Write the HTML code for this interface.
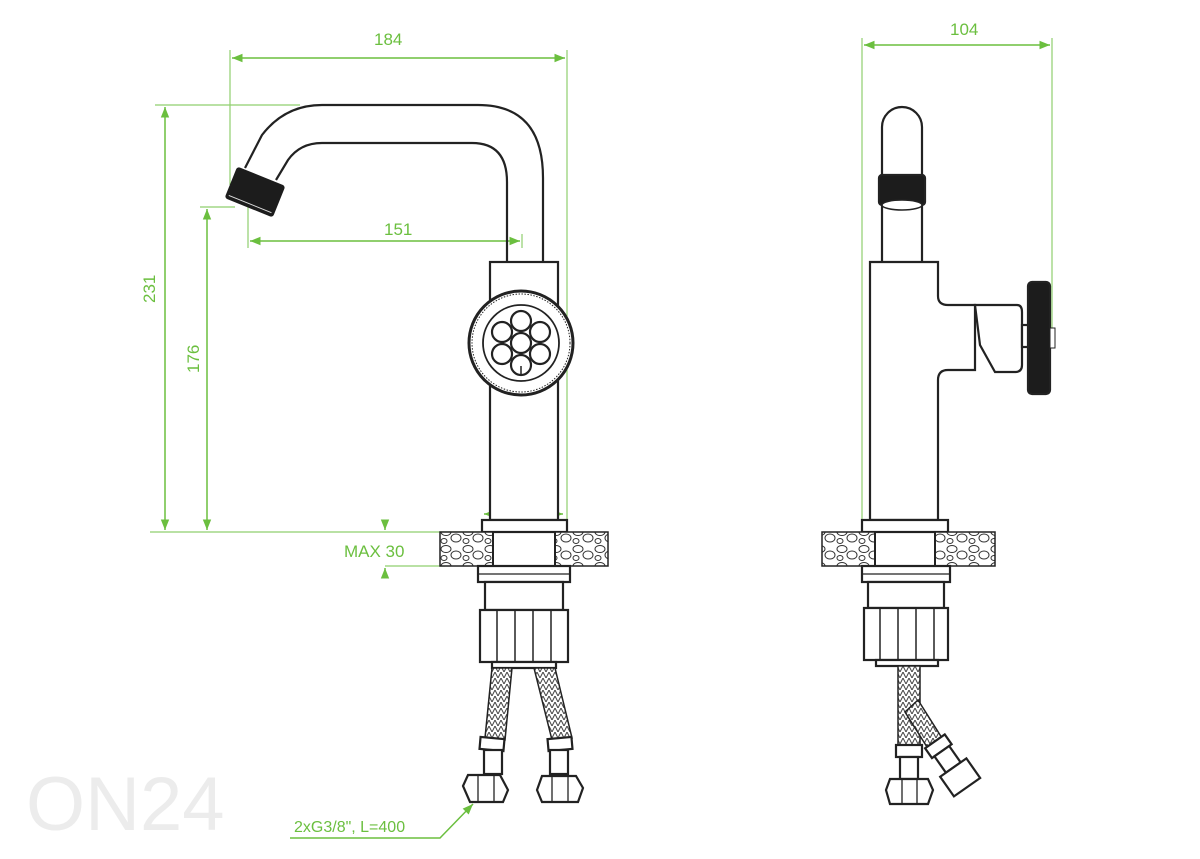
<!DOCTYPE html>
<html><head><meta charset="utf-8"><style>
html,body{margin:0;padding:0;background:#fff;}
svg{display:block}
text{font-family:"Liberation Sans",sans-serif;fill:#6bbf3f;font-size:17px}
</style></head><body>
<svg width="1200" height="859" viewBox="0 0 1200 859" xmlns="http://www.w3.org/2000/svg">
<defs>
<marker id="a" viewBox="0 0 10 10" refX="10" refY="5" markerWidth="9" markerHeight="7" orient="auto-start-reverse"><path d="M0,1 L10,5 L0,9 z" fill="#6bbf3f"/></marker>
<pattern id="peb" width="22" height="17" patternUnits="userSpaceOnUse">
<rect width="22" height="17" fill="#fff"/>
<ellipse cx="6" cy="5" rx="5" ry="3.5" fill="none" stroke="#333" stroke-width="1"/>
<ellipse cx="16" cy="11" rx="5" ry="4" fill="none" stroke="#333" stroke-width="1"/>
<ellipse cx="4" cy="14" rx="3" ry="2.5" fill="none" stroke="#333" stroke-width="1"/>
</pattern>
<pattern id="braid" width="6" height="6" patternUnits="userSpaceOnUse">
<rect width="6" height="6" fill="#fff"/><path d="M0,6 L3,0 L6,6" fill="none" stroke="#444" stroke-width="1"/>
</pattern>
</defs>

<text x="26" y="830" style="font-size:76px;fill:#ececec">ON24</text>

<!-- green dimensions -->
<g stroke="#8fcf6e" stroke-width="1.2" fill="none">
<line x1="230" y1="50" x2="230" y2="185"/>
<line x1="567" y1="50" x2="567" y2="520"/>
<line x1="155" y1="105" x2="300" y2="105"/>
<line x1="150" y1="532" x2="480" y2="532"/>
<line x1="200" y1="207" x2="235" y2="207"/>
<line x1="248" y1="200" x2="248" y2="248"/>
<line x1="522" y1="234" x2="522" y2="248"/>
<line x1="385" y1="566" x2="445" y2="566"/>
<line x1="862" y1="38" x2="862" y2="520"/>
<line x1="1052" y1="38" x2="1052" y2="330"/>
</g>
<g stroke="#6bbf3f" stroke-width="1.5" fill="none">
<line x1="232" y1="58" x2="565" y2="58" marker-start="url(#a)" marker-end="url(#a)"/>
<line x1="165" y1="107" x2="165" y2="530" marker-start="url(#a)" marker-end="url(#a)"/>
<line x1="207" y1="209" x2="207" y2="530" marker-start="url(#a)" marker-end="url(#a)"/>
<line x1="250" y1="241" x2="520" y2="241" marker-start="url(#a)" marker-end="url(#a)"/>
<line x1="484" y1="514" x2="563" y2="514" marker-start="url(#a)" marker-end="url(#a)"/>
<line x1="385" y1="520" x2="385" y2="530" marker-end="url(#a)"/>
<line x1="385" y1="578" x2="385" y2="568" marker-end="url(#a)"/>
<line x1="864" y1="45" x2="1050" y2="45" marker-start="url(#a)" marker-end="url(#a)"/>
<polyline points="290,838 440,838 473,804" marker-end="url(#a)"/>
</g>
<text x="374" y="45">184</text>
<text x="384" y="235">151</text>
<text x="507" y="508">ø48</text>
<text x="344" y="557">MAX 30</text>
<text x="950" y="35">104</text>
<text x="294" y="832" style="font-size:16px">2xG3/8", L=400</text>
<text transform="translate(155,303) rotate(-90)">231</text>
<text transform="translate(199,373) rotate(-90)">176</text>

<!-- front view -->
<g stroke="#222" stroke-width="2.2" fill="none">
<path d="M543,262 L543,178 Q543,105 478,105 L322,105 Q285,105 262,135 L245,168"/>
<path d="M507,262 L507,182 Q507,143 472,143 L322,143 Q300,143 288,160 L276,180"/>
<rect x="490" y="262" width="68" height="258" fill="#fff"/>
<circle cx="521" cy="343" r="52" fill="#fff" stroke-width="3"/>
<circle cx="521" cy="343" r="49" stroke-width="1" stroke-dasharray="1.5 1.5"/>
<circle cx="521" cy="343" r="38" stroke-width="1.8"/>
<circle cx="521" cy="343" r="10"/>
<circle cx="521" cy="321" r="10"/><circle cx="521" cy="365" r="10"/>
<circle cx="502" cy="332" r="10"/><circle cx="540" cy="332" r="10"/>
<circle cx="502" cy="354" r="10"/><circle cx="540" cy="354" r="10"/>
<line x1="521" y1="366" x2="521" y2="374" stroke-width="1.5"/>
<rect x="482" y="520" width="85" height="12" fill="#fff"/>
<rect x="440" y="532" width="53" height="34" fill="url(#peb)" stroke-width="1.5"/>
<rect x="555" y="532" width="53" height="34" fill="url(#peb)" stroke-width="1.5"/>
<rect x="493" y="532" width="62" height="34" stroke-width="2"/>
<rect x="478" y="566" width="92" height="16" fill="#fff"/>
<line x1="478" y1="574" x2="570" y2="574" stroke-width="1.2"/>
<rect x="485" y="582" width="78" height="28" fill="#fff"/>
<rect x="480" y="610" width="88" height="52" fill="#fff"/>
<line x1="497" y1="610" x2="497" y2="662" stroke-width="1.5"/><line x1="515" y1="610" x2="515" y2="662" stroke-width="1.5"/>
<line x1="533" y1="610" x2="533" y2="662" stroke-width="1.5"/><line x1="551" y1="610" x2="551" y2="662" stroke-width="1.5"/>
<rect x="492" y="662" width="64" height="6" fill="#fff"/>
<path d="M492,668 L512,668 L505,740 L485,738 Z" fill="url(#braid)" stroke-width="1.5"/>
<path d="M534,668 L555,668 L572,738 L552,740 Z" fill="url(#braid)" stroke-width="1.5"/>
<rect x="480" y="738" width="24" height="12" fill="#fff" transform="rotate(5 492 744)"/>
<rect x="484" y="750" width="18" height="24" fill="#fff"/>
<rect x="548" y="738" width="24" height="12" fill="#fff" transform="rotate(-5 560 744)"/>
<rect x="550" y="750" width="18" height="24" fill="#fff"/>
<path d="M463,786 L468,775 L500,775 L508,790 L503,802 L470,802 Z" fill="#fff"/>
<line x1="478" y1="775" x2="478" y2="802" stroke-width="1.3"/><line x1="494" y1="775" x2="494" y2="802" stroke-width="1.3"/>
<path d="M537,790 L542,776 L576,776 L583,788 L578,802 L542,802 Z" fill="#fff"/>
<line x1="552" y1="776" x2="552" y2="802" stroke-width="1.3"/><line x1="568" y1="776" x2="568" y2="802" stroke-width="1.3"/>
</g>
<g transform="rotate(22 255 192)"><rect x="229" y="175" width="52" height="34" rx="3" fill="#1c1c1c"/><line x1="232" y1="205" x2="278" y2="205" stroke="#ddd" stroke-width="1"/></g>

<!-- side view -->
<g stroke="#222" stroke-width="2.2" fill="none">
<path d="M882,262 L882,127 A20,20 0 0 1 922,127 L922,262"/>
<rect x="879" y="175" width="46" height="30" rx="3" fill="#1c1c1c"/>
<ellipse cx="902" cy="205" rx="20" ry="5" fill="#fff" stroke-width="1.5"/>
<path d="M870,520 L870,262 L938,262 L938,296 Q938,305 948,305 L975,305 L975,370 L948,370 Q938,370 938,380 L938,520 Z" fill="#fff"/>
<path d="M975,305 L1017,305 Q1022,305 1022,312 L1022,365 Q1022,372 1015,372 L995,372 L980,345 Z" fill="#fff"/>
<rect x="1022" y="325" width="8" height="22" fill="#fff"/>
<rect x="1028" y="282" width="22" height="112" rx="4" fill="#1c1c1c"/>
<rect x="1050" y="328" width="5" height="20" fill="#fff" stroke-width="1"/>
<rect x="862" y="520" width="86" height="12" fill="#fff"/>
<rect x="822" y="532" width="53" height="34" fill="url(#peb)" stroke-width="1.5"/>
<rect x="935" y="532" width="60" height="34" fill="url(#peb)" stroke-width="1.5"/>
<rect x="875" y="532" width="60" height="34" stroke-width="2"/>
<rect x="862" y="566" width="88" height="16" fill="#fff"/>
<line x1="862" y1="574" x2="950" y2="574" stroke-width="1.2"/>
<rect x="868" y="582" width="76" height="26" fill="#fff"/>
<rect x="864" y="608" width="84" height="52" fill="#fff"/>
<line x1="880" y1="608" x2="880" y2="660" stroke-width="1.5"/><line x1="898" y1="608" x2="898" y2="660" stroke-width="1.5"/>
<line x1="916" y1="608" x2="916" y2="660" stroke-width="1.5"/><line x1="934" y1="608" x2="934" y2="660" stroke-width="1.5"/>
<rect x="876" y="660" width="62" height="6" fill="#fff"/>
<path d="M898,666 L920,666 L920,745 L898,745 Z" fill="url(#braid)" stroke-width="1.5"/>
<path d="M918,700 L942,738 L927,747 L905,712 Z" fill="url(#braid)" stroke-width="1.5"/>
<rect x="896" y="745" width="26" height="12" fill="#fff"/>
<rect x="900" y="757" width="18" height="22" fill="#fff"/>
<path d="M886,790 L890,779 L928,779 L933,790 L928,804 L890,804 Z" fill="#fff"/>
<line x1="902" y1="779" x2="902" y2="804" stroke-width="1.3"/><line x1="917" y1="779" x2="917" y2="804" stroke-width="1.3"/>
<g transform="rotate(-35 955 770)"><rect x="943" y="735" width="24" height="12" fill="#fff"/><rect x="946" y="747" width="18" height="20" fill="#fff"/><rect x="939" y="767" width="32" height="24" fill="#fff"/></g>
</g>
</svg>
</body></html>
